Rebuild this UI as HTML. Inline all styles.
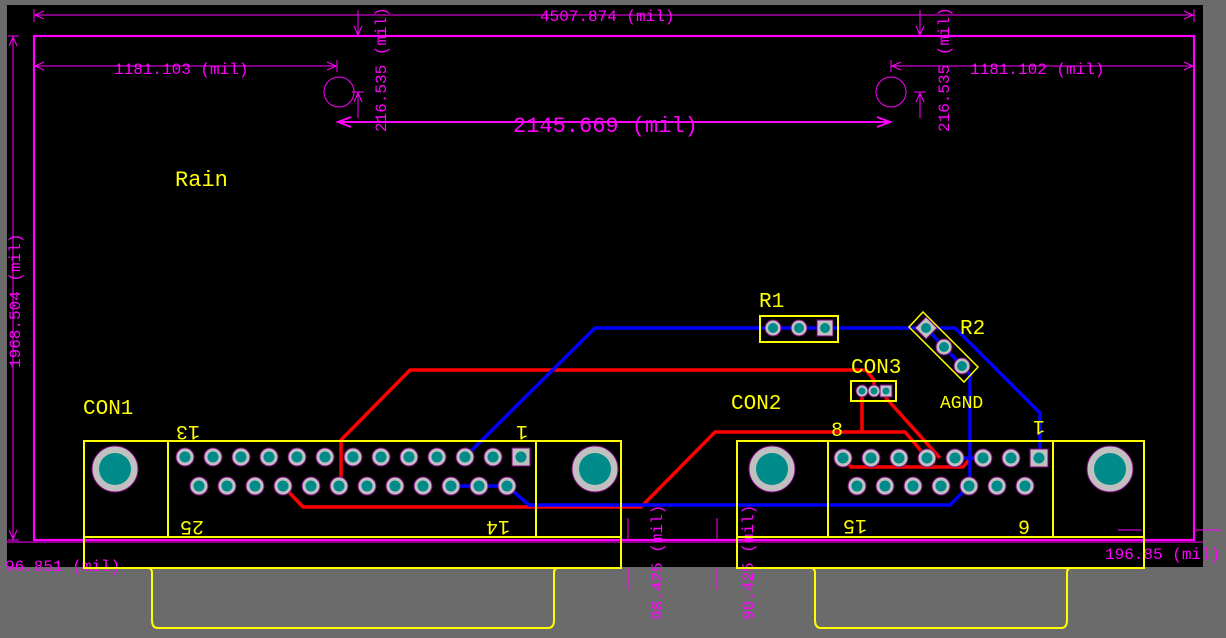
<!DOCTYPE html>
<html><head><meta charset="utf-8"><style>
html,body{margin:0;padding:0;background:#6b6b6b;width:1226px;height:638px;overflow:hidden}
svg{display:block}
text{font-family:"Liberation Mono","DejaVu Sans Mono",monospace}
</style></head><body>
<svg width="1226" height="638" viewBox="0 0 1226 638" xmlns="http://www.w3.org/2000/svg">
<rect x="0" y="0" width="1226" height="638" fill="#6b6b6b"/>
<rect x="7" y="5" width="1196" height="562" fill="#000"/>
<g stroke="#ff00ff" fill="none" stroke-width="1">
<rect x="34" y="36" width="1160" height="504" stroke-width="2.2"/>
<line x1="34" y1="15" x2="1194" y2="15"/><line x1="34" y1="9" x2="34" y2="22"/><line x1="1194" y1="9" x2="1194" y2="22"/>
<polyline points="44,11 35,15 44,19"/><polyline points="1184,11 1193,15 1184,19"/>
<line x1="13" y1="36" x2="13" y2="540"/><line x1="8" y1="36" x2="19" y2="36"/><line x1="8" y1="540" x2="19" y2="540"/>
<polyline points="9,46 13,37 17,46"/><polyline points="9,530 13,539 17,530"/>
<line x1="34" y1="66" x2="337" y2="66"/><line x1="337" y1="60" x2="337" y2="72"/>
<polyline points="44,62 35,66 44,70"/><polyline points="327,62 336,66 327,70"/>
<line x1="891" y1="66" x2="1194" y2="66"/><line x1="891" y1="60" x2="891" y2="72"/>
<polyline points="901,62 892,66 901,70"/><polyline points="1184,62 1193,66 1184,70"/>
<line x1="337" y1="122" x2="891" y2="122" stroke-width="2"/>
<polyline points="351,117 338,122 351,127" stroke-width="2"/><polyline points="877,117 890,122 877,127" stroke-width="2"/>
<circle cx="339" cy="92" r="15"/><circle cx="891" cy="92" r="15"/>
<line x1="358" y1="10" x2="358" y2="36"/><line x1="358" y1="92" x2="358" y2="118"/><line x1="352" y1="92" x2="364" y2="92"/>
<polyline points="354,26 358,35 362,26"/><polyline points="354,102 358,93 362,102"/>
<line x1="920" y1="10" x2="920" y2="36"/><line x1="920" y1="92" x2="920" y2="118"/><line x1="914" y1="92" x2="926" y2="92"/>
<polyline points="916,26 920,35 924,26"/><polyline points="916,102 920,93 924,102"/>
<line x1="5" y1="542" x2="1204" y2="542" stroke-width="1"/>
<line x1="628" y1="518" x2="628" y2="540"/><line x1="628" y1="568" x2="628" y2="590"/>
<line x1="717" y1="518" x2="717" y2="540"/><line x1="717" y1="568" x2="717" y2="590"/>
<line x1="1118" y1="530" x2="1141" y2="530"/><line x1="1196" y1="530" x2="1222" y2="530"/>
</g>
<g fill="#ff00ff" font-size="16">
<text x="540" y="21">4507.874 (mil)</text>
<text x="114" y="74">1181.103 (mil)</text>
<text x="970" y="74">1181.102 (mil)</text>
<text x="513" y="132" font-size="22">2145.669 (mil)</text>
<text transform="translate(20,368) rotate(-90)">1968.504 (mil)</text>
<text transform="translate(386,132) rotate(-90)">216.535 (mil)</text>
<text transform="translate(949,132) rotate(-90)">216.535 (mil)</text>
<text transform="translate(662,620) rotate(-90)">98.425 (mil)</text>
<text transform="translate(753,620) rotate(-90)">98.425 (mil)</text>
<text x="5" y="571">96.851 (mil)</text>
<text x="1105" y="559">196.85 (mil)</text>
</g>
<g fill="none" stroke-width="3.5" stroke-linejoin="round">
<polyline stroke="#ff0000" points="341,478 341,440 410,370 866,370 874,380 874,391"/>
<polyline stroke="#ff0000" points="886,391 886,398 940,458"/>
<polyline stroke="#ff0000" points="862,391 862,432"/>
<polyline stroke="#ff0000" points="283,486 303,507 641,507 715,432 905,432 927,458"/>
<polyline stroke="#ff0000" points="843,458 851,467 963,467 969,460"/>
<polyline stroke="#0000ff" points="465,457 475,447 595,328 955,328 1040,413 1040,458"/>
<polyline stroke="#0000ff" points="926,328 962,366 970,375 970,495"/>
<polyline stroke="#0000ff" points="451,486 507,486 529,505 950,505 969,486"/>
<polyline stroke="#0000ff" points="955,458 983,458"/>
</g>
<g fill="none" stroke="#ffff00" stroke-width="2">
<rect x="84" y="441" width="537" height="96"/><line x1="168" y1="441" x2="168" y2="537"/><line x1="536" y1="441" x2="536" y2="537"/>
<rect x="84" y="537" width="537" height="31"/>
<path d="M148,568 Q152,568 152,573 L152,620 Q152,628 158,628 L548,628 Q554,628 554,620 L554,573 Q554,568 558,568"/>
<rect x="737" y="441" width="407" height="96"/><line x1="828" y1="441" x2="828" y2="537"/><line x1="1053" y1="441" x2="1053" y2="537"/>
<rect x="737" y="537" width="407" height="31"/>
<path d="M811,568 Q815,568 815,573 L815,620 Q815,628 821,628 L1061,628 Q1067,628 1067,620 L1067,573 Q1067,568 1071,568"/>
<rect x="760" y="316" width="78" height="26"/>
<rect x="851" y="381" width="45" height="20"/>
<polygon points="923,312 978,367 964,382 909,327" stroke-width="1.5"/>
</g>
<g fill="#c0c0c0" stroke="#800080" stroke-width="1">
<circle cx="115" cy="469" r="23"/><circle cx="595" cy="469" r="23"/>
<circle cx="772" cy="469" r="23"/><circle cx="1110" cy="469" r="23"/>
</g>
<g fill="#008b8b"><circle cx="115" cy="469" r="16"/><circle cx="595" cy="469" r="16"/><circle cx="772" cy="469" r="16"/><circle cx="1110" cy="469" r="16"/></g>
<g stroke="#800080" stroke-width="1" fill="#c0c0c0">
<circle cx="185" cy="457" r="9"/><circle cx="213" cy="457" r="9"/><circle cx="241" cy="457" r="9"/><circle cx="269" cy="457" r="9"/><circle cx="297" cy="457" r="9"/><circle cx="325" cy="457" r="9"/><circle cx="353" cy="457" r="9"/><circle cx="381" cy="457" r="9"/><circle cx="409" cy="457" r="9"/><circle cx="437" cy="457" r="9"/><circle cx="465" cy="457" r="9"/><circle cx="493" cy="457" r="9"/>
<rect x="512" y="448" width="18" height="18"/>
<circle cx="199" cy="486" r="9"/><circle cx="227" cy="486" r="9"/><circle cx="255" cy="486" r="9"/><circle cx="283" cy="486" r="9"/><circle cx="311" cy="486" r="9"/><circle cx="339" cy="486" r="9"/><circle cx="367" cy="486" r="9"/><circle cx="395" cy="486" r="9"/><circle cx="423" cy="486" r="9"/><circle cx="451" cy="486" r="9"/><circle cx="479" cy="486" r="9"/><circle cx="507" cy="486" r="9"/>
<circle cx="843" cy="458" r="9"/><circle cx="871" cy="458" r="9"/><circle cx="899" cy="458" r="9"/><circle cx="927" cy="458" r="9"/><circle cx="955" cy="458" r="9"/><circle cx="983" cy="458" r="9"/><circle cx="1011" cy="458" r="9"/>
<rect x="1030" y="449" width="18" height="18"/>
<circle cx="857" cy="486" r="9"/><circle cx="885" cy="486" r="9"/><circle cx="913" cy="486" r="9"/><circle cx="941" cy="486" r="9"/><circle cx="969" cy="486" r="9"/><circle cx="997" cy="486" r="9"/><circle cx="1025" cy="486" r="9"/>
<circle cx="773" cy="328" r="8"/><circle cx="799" cy="328" r="8"/><rect x="817" y="320" width="16" height="16"/>
<polygon points="926,317 937,328 926,339 915,328"/><circle cx="944" cy="347" r="8"/><circle cx="962" cy="366" r="8"/>
<circle cx="862" cy="391" r="6"/><circle cx="874" cy="391" r="6"/><rect x="880" y="385" width="12" height="12"/>
</g>
<g fill="#008b8b">
<circle cx="185" cy="457" r="5.5"/><circle cx="213" cy="457" r="5.5"/><circle cx="241" cy="457" r="5.5"/><circle cx="269" cy="457" r="5.5"/><circle cx="297" cy="457" r="5.5"/><circle cx="325" cy="457" r="5.5"/><circle cx="353" cy="457" r="5.5"/><circle cx="381" cy="457" r="5.5"/><circle cx="409" cy="457" r="5.5"/><circle cx="437" cy="457" r="5.5"/><circle cx="465" cy="457" r="5.5"/><circle cx="493" cy="457" r="5.5"/><circle cx="521" cy="457" r="5.5"/>
<circle cx="199" cy="486" r="5.5"/><circle cx="227" cy="486" r="5.5"/><circle cx="255" cy="486" r="5.5"/><circle cx="283" cy="486" r="5.5"/><circle cx="311" cy="486" r="5.5"/><circle cx="339" cy="486" r="5.5"/><circle cx="367" cy="486" r="5.5"/><circle cx="395" cy="486" r="5.5"/><circle cx="423" cy="486" r="5.5"/><circle cx="451" cy="486" r="5.5"/><circle cx="479" cy="486" r="5.5"/><circle cx="507" cy="486" r="5.5"/>
<circle cx="843" cy="458" r="5.5"/><circle cx="871" cy="458" r="5.5"/><circle cx="899" cy="458" r="5.5"/><circle cx="927" cy="458" r="5.5"/><circle cx="955" cy="458" r="5.5"/><circle cx="983" cy="458" r="5.5"/><circle cx="1011" cy="458" r="5.5"/><circle cx="1039" cy="458" r="5.5"/>
<circle cx="857" cy="486" r="5.5"/><circle cx="885" cy="486" r="5.5"/><circle cx="913" cy="486" r="5.5"/><circle cx="941" cy="486" r="5.5"/><circle cx="969" cy="486" r="5.5"/><circle cx="997" cy="486" r="5.5"/><circle cx="1025" cy="486" r="5.5"/>
<circle cx="773" cy="328" r="5"/><circle cx="799" cy="328" r="5"/><circle cx="825" cy="328" r="5"/>
<circle cx="926" cy="328" r="5"/><circle cx="944" cy="347" r="5"/><circle cx="962" cy="366" r="5"/>
<circle cx="862" cy="391" r="3.5"/><circle cx="874" cy="391" r="3.5"/><circle cx="886" cy="391" r="3.5"/>
</g>
<g fill="#ffff00" font-size="21">
<text x="175" y="186" font-size="22">Rain</text>
<text x="759" y="307">R1</text>
<text x="960" y="334">R2</text>
<text x="851" y="373">CON3</text>
<text x="731" y="409">CON2</text>
<text x="83" y="414">CON1</text>
<text x="940" y="408" font-size="18">AGND</text>
<text x="831" y="436" font-size="20">8</text>
<text x="1033" y="435" font-size="20" transform="rotate(180 1039 428)">1</text>
<text x="172" y="440" font-size="20" transform="rotate(180 186 433)">13</text>
<text x="516" y="440" font-size="20" transform="rotate(180 522 433)">1</text>
<text x="176" y="535" font-size="20" transform="rotate(180 190 528)">25</text>
<text x="482" y="535" font-size="20" transform="rotate(180 496 528)">14</text>
<text x="839" y="534" font-size="20" transform="rotate(180 853 527)">15</text>
<text x="1018" y="534" font-size="20">9</text>
</g>
</svg>
</body></html>
